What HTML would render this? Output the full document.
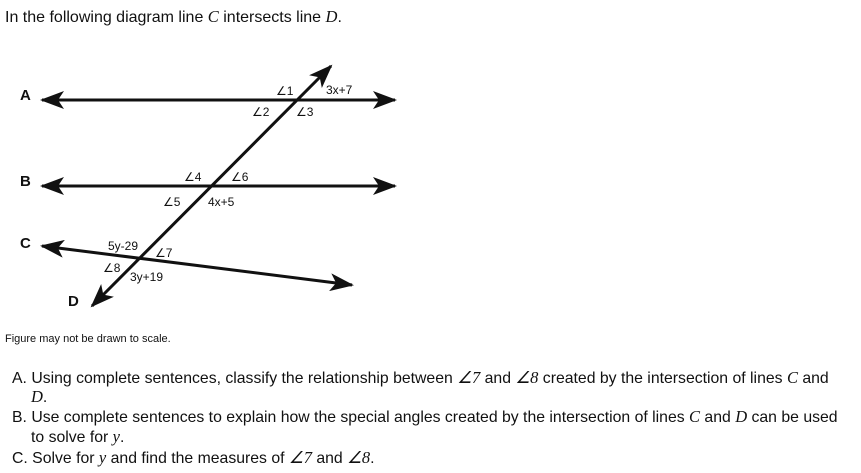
<!DOCTYPE html>
<html><head><meta charset="utf-8"><style>
body{margin:0;width:861px;height:473px;background:#fff;font-family:"Liberation Sans",sans-serif;color:#111;position:relative;overflow:hidden}
.t{position:absolute;white-space:nowrap;font-size:15.8px}
.m{font-family:"Liberation Serif",serif;font-style:italic;font-size:16.5px}
svg{position:absolute;left:0;top:0}
svg text{font-family:"Liberation Sans",sans-serif;font-size:12px;fill:#111}
</style></head><body>
<div class="t" style="left:5px;top:7px;font-size:16px">In the following diagram line <span class="m">C</span> intersects line <span class="m">D</span>.</div>
<svg width="861" height="473">
<defs>
<marker id="a2" markerWidth="24" markerHeight="18" refX="22" refY="9" orient="auto-start-reverse" markerUnits="userSpaceOnUse" viewBox="0 0 24 18"><path d="M0,0 L24,9 L0,18 L6,9 Z" fill="#111"/></marker></defs>
<g stroke="#111" stroke-width="3" fill="none">
<line x1="42" y1="100" x2="395" y2="100" marker-start="url(#a2)" marker-end="url(#a2)"/>
<line x1="42" y1="186" x2="395" y2="186" marker-start="url(#a2)" marker-end="url(#a2)"/>
<line x1="42" y1="246" x2="352" y2="285" marker-start="url(#a2)" marker-end="url(#a2)"/>
<line x1="92" y1="306" x2="331" y2="66" marker-start="url(#a2)" marker-end="url(#a2)"/>
</g>
<text x="20" y="100" style="font-size:15px;font-weight:bold">A</text>
<text x="20" y="186" style="font-size:15px;font-weight:bold">B</text>
<text x="20" y="248" style="font-size:15px;font-weight:bold">C</text>
<text x="68" y="306" style="font-size:15px;font-weight:bold">D</text>
<text x="276" y="95">∠1</text><text x="326" y="94">3x+7</text>
<text x="252" y="116">∠2</text><text x="296" y="116">∠3</text>
<text x="184" y="181">∠4</text><text x="231" y="181">∠6</text>
<text x="163" y="206">∠5</text><text x="208" y="206">4x+5</text>
<text x="108" y="250">5y-29</text><text x="155" y="257">∠7</text>
<text x="103" y="272">∠8</text><text x="130" y="281">3y+19</text>
</svg>
<div class="t" style="left:5px;top:333px;font-size:11px">Figure may not be drawn to scale.</div>
<div class="t" style="left:12px;top:368px">A. Using complete sentences, classify the relationship between <span class="m">∠7</span> and <span class="m">∠8</span> created by the intersection of lines <span class="m">C</span> and</div>
<div class="t" style="left:31px;top:387px"><span class="m">D</span>.</div>
<div class="t" style="left:12px;top:407px">B. Use complete sentences to explain how the special angles created by the intersection of lines <span class="m">C</span> and <span class="m">D</span> can be used</div>
<div class="t" style="left:31px;top:427px">to solve for <span class="m">y</span>.</div>
<div class="t" style="left:12px;top:448px">C. Solve for <span class="m">y</span> and find the measures of <span class="m">∠7</span> and <span class="m">∠8</span>.</div>
</body></html>
